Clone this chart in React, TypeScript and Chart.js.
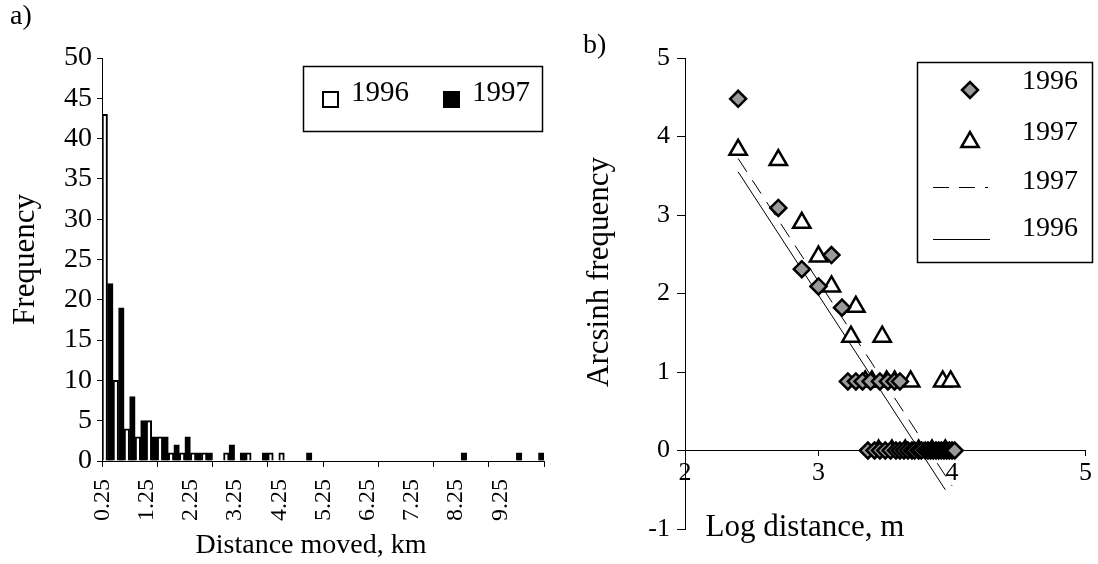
import React, { useEffect, useRef } from "react";
import { Chart, registerables } from "chart.js";

Chart.register(...registerables);

const FONT = "'Liberation Serif', 'Times New Roman', serif";

// ---- Panel a) data ----
const distanceLabels = [
  "0.25", "0.5", "0.75", "1", "1.25", "1.5", "1.75", "2", "2.25", "2.5",
  "2.75", "3", "3.25", "3.5", "3.75", "4", "4.25", "4.5", "4.75", "5",
  "5.25", "5.5", "5.75", "6", "6.25", "6.5", "6.75", "7", "7.25", "7.5",
  "7.75", "8", "8.25", "8.5", "8.75", "9", "9.25", "9.5", "9.75", "10",
];
const freq1996 = [
  43, 10, 4, 3, 5, 3, 1, 1, 1, 1,
  0, 1, 0, 1, 0, 1, 1, 0, 0, 0,
  0, 0, 0, 0, 0, 0, 0, 0, 0, 0,
  0, 0, 0, 0, 0, 0, 0, 0, 0, 0,
];
const freq1997 = [
  22, 19, 8, 5, 3, 3, 2, 3, 1, 1,
  0, 2, 1, 0, 1, 0, 0, 0, 1, 0,
  0, 0, 0, 0, 0, 0, 0, 0, 0, 0,
  0, 0, 1, 0, 0, 0, 0, 1, 0, 1,
];
const seriesNamesA = ["1996", "1997"];

// ---- Panel b) data ----
const logDist1996 = [
  2.398, 2.699, 2.875, 3.0, 3.097, 3.176,
  3.22, 3.28, 3.33, 3.39, 3.46, 3.52, 3.57, 3.61,
  3.37, 3.42, 3.46, 3.5, 3.54, 3.58, 3.61, 3.64, 3.67, 3.7, 3.72, 3.75,
  3.77, 3.8, 3.82, 3.84, 3.86, 3.88, 3.9, 3.92, 3.94, 3.96, 3.98, 4.0, 4.02,
];
const asinh1996 = [
  4.48, 3.09, 2.31, 2.09, 2.49, 1.82,
  0.88, 0.88, 0.88, 0.88, 0.88, 0.88, 0.88, 0.88,
  0, 0, 0, 0, 0, 0, 0, 0, 0, 0, 0, 0,
  0, 0, 0, 0, 0, 0, 0, 0, 0, 0, 0, 0, 0,
];
const logDist1997 = [
  2.398, 2.699, 2.875, 3.0, 3.097, 3.243, 3.28, 3.477,
  3.35, 3.4, 3.51, 3.57, 3.69, 3.93, 3.99,
  3.45, 3.55, 3.65, 3.75, 3.85, 3.95,
];
const asinh1997 = [
  3.83, 3.7, 2.9, 2.47, 2.09, 1.45, 1.83, 1.45,
  0.88, 0.88, 0.88, 0.88, 0.88, 0.88, 0.88,
  0, 0, 0, 0, 0, 0,
];
const fit1997X = [2.398, 4.0];
const fit1997Y = [3.72, -0.45];
const fit1996X = [2.398, 3.95];
const fit1996Y = [3.55, -0.5];
const legendNamesB = ["1996", "1997", "1997", "1996"];
const xTicksB = [2, 3, 4, 5];
const yTicksB = [-1, 0, 1, 2, 3, 4, 5];

const toPoints = (xs: number[], ys: number[]) => xs.map((x, i) => ({ x, y: ys[i] }));

export default function App() {
  const refA = useRef<HTMLCanvasElement>(null);
  const refB = useRef<HTMLCanvasElement>(null);

  useEffect(() => {
    const legendA = {
      id: "legendA",
      afterDraw(chart: any) {
        const ctx = chart.ctx;
        ctx.save();
        ctx.fillStyle = "#fff";
        ctx.fillRect(303, 66, 239, 65);
        ctx.strokeStyle = "#000";
        ctx.lineWidth = 1.5;
        ctx.strokeRect(303.5, 66.5, 239, 65);
        ctx.lineWidth = 2;
        ctx.strokeRect(323, 92, 15, 15);
        ctx.fillStyle = "#000";
        ctx.fillRect(443, 91, 17, 17);
        ctx.font = `29px ${FONT}`;
        ctx.textBaseline = "middle";
        ctx.textAlign = "left";
        ctx.fillText(seriesNamesA[0], 351, 93);
        ctx.fillText(seriesNamesA[1], 472, 93);
        ctx.font = `28px ${FONT}`;
        ctx.fillText("a)", 10, 17);
        ctx.textAlign = "center";
        ctx.fillText("Distance moved, km", 311, 546);
        ctx.restore();
      },
    };

    const chartA = new Chart(refA.current as HTMLCanvasElement, {
      type: "bar",
      data: {
        labels: distanceLabels,
        datasets: [
          {
            label: seriesNamesA[0],
            data: freq1996,
            backgroundColor: "#fff",
            borderColor: "#000",
            borderWidth: 2,
            categoryPercentage: 1,
            barPercentage: 1,
          },
          {
            label: seriesNamesA[1],
            data: freq1997,
            backgroundColor: "#000",
            borderColor: "#000",
            borderWidth: 1,
            categoryPercentage: 1,
            barPercentage: 1,
          },
        ],
      },
      options: {
        animation: false,
        responsive: false,
        maintainAspectRatio: false,
        devicePixelRatio: 1,
        layout: { padding: { left: 0, top: 58, right: 16, bottom: 0 } },
        plugins: { legend: { display: false }, tooltip: { enabled: false } },
        scales: {
          x: {
            type: "category",
            offset: true,
            grid: {
              offset: true,
              drawOnChartArea: false,
              drawTicks: true,
              tickLength: 6,
              lineWidth: 1,
              color: (c: any) =>
                c.index === undefined || c.index % 5 === 0 ? "#000" : "rgba(0,0,0,0)",
            },
            border: { display: true, color: "#000", width: 1 },
            ticks: {
              autoSkip: false,
              maxRotation: 90,
              minRotation: 90,
              padding: 12,
              labelOffset: -5,
              color: "#000",
              font: { family: FONT, size: 24 },
              callback: (_v: any, i: number) => (i % 4 === 0 ? distanceLabels[i] : ""),
            },
            afterFit: (s: any) => {
              s.height = 103;
              s.paddingLeft = 0;
              s.paddingRight = 0;
            },
          },
          y: {
            min: 0,
            max: 50,
            ticks: {
              stepSize: 5,
              color: "#000",
              padding: 5,
              font: { family: FONT, size: 28 },
            },
            grid: { drawOnChartArea: false, tickLength: 5, color: "#000" },
            border: { display: true, color: "#000", width: 1 },
            title: {
              display: true,
              text: "Frequency",
              color: "#000",
              font: { family: FONT, size: 31 },
              padding: { top: 7, bottom: 0 },
            },
            afterFit: (s: any) => {
              s.width = 102;
            },
          },
        },
      },
      plugins: [legendA],
    } as any);

    const drawDiamond = (ctx: any, x: number, y: number, r: number) => {
      ctx.beginPath();
      ctx.moveTo(x - r, y);
      ctx.lineTo(x, y - r);
      ctx.lineTo(x + r, y);
      ctx.lineTo(x, y + r);
      ctx.closePath();
      ctx.fillStyle = "#9a9a9a";
      ctx.fill();
      ctx.lineWidth = 2.5;
      ctx.strokeStyle = "#000";
      ctx.stroke();
    };
    const drawTriangle = (ctx: any, x: number, y: number, r: number) => {
      ctx.beginPath();
      for (let k = 0; k < 3; k++) {
        const a = (k * 2 * Math.PI) / 3;
        const px = x + Math.sin(a) * r;
        const py = y - Math.cos(a) * r;
        if (k === 0) ctx.moveTo(px, py);
        else ctx.lineTo(px, py);
      }
      ctx.closePath();
      ctx.fillStyle = "#fff";
      ctx.fill();
      ctx.lineWidth = 2.5;
      ctx.strokeStyle = "#000";
      ctx.stroke();
    };

    const legendB = {
      id: "legendB",
      afterDraw(chart: any) {
        const ctx = chart.ctx;
        ctx.save();
        ctx.fillStyle = "#fff";
        ctx.fillRect(357, 62, 175, 200);
        ctx.strokeStyle = "#000";
        ctx.lineWidth = 1.5;
        ctx.strokeRect(357.5, 62.5, 175, 200);
        drawDiamond(ctx, 410, 90, 8);
        drawTriangle(ctx, 410, 142, 10);
        ctx.lineWidth = 1;
        ctx.setLineDash([16, 10]);
        ctx.beginPath();
        ctx.moveTo(373, 187.5);
        ctx.lineTo(428, 187.5);
        ctx.stroke();
        ctx.setLineDash([]);
        ctx.beginPath();
        ctx.moveTo(373, 239.5);
        ctx.lineTo(430, 239.5);
        ctx.stroke();
        ctx.fillStyle = "#000";
        ctx.font = `28px ${FONT}`;
        ctx.textBaseline = "middle";
        ctx.textAlign = "left";
        ctx.fillText(legendNamesB[0], 462, 82);
        ctx.fillText(legendNamesB[1], 462, 133);
        ctx.fillText(legendNamesB[2], 462, 182);
        ctx.fillText(legendNamesB[3], 462, 229);
        ctx.fillText("b)", 23, 46);
        // axis titles
        ctx.font = `31px ${FONT}`;
        ctx.textAlign = "center";
        ctx.fillText("Log distance, m", 245, 528);
        ctx.save();
        ctx.translate(40, 272);
        ctx.rotate(-Math.PI / 2);
        ctx.fillText("Arcsinh frequency", 0, 0);
        ctx.restore();
        ctx.restore();
      },
    };

    const chartB = new Chart(refB.current as HTMLCanvasElement, {
      type: "scatter",
      data: {
        datasets: [
          {
            label: "1996",
            data: toPoints(logDist1996, asinh1996),
            pointStyle: "rectRot",
            pointRadius: 8,
            backgroundColor: "#9a9a9a",
            borderColor: "#000",
            borderWidth: 2.5,
            order: 1,
          },
          {
            label: "1997",
            data: toPoints(logDist1997, asinh1997),
            pointStyle: "triangle",
            pointRadius: 10,
            backgroundColor: "#fff",
            borderColor: "#000",
            borderWidth: 2.5,
            order: 2,
          },
          {
            type: "line",
            label: "1997 fit",
            data: toPoints(fit1997X, fit1997Y),
            borderColor: "#000",
            borderWidth: 1,
            borderDash: [16, 10],
            pointRadius: 0,
            fill: false,
            order: 3,
          },
          {
            type: "line",
            label: "1996 fit",
            data: toPoints(fit1996X, fit1996Y),
            borderColor: "#000",
            borderWidth: 1,
            pointRadius: 0,
            fill: false,
            order: 4,
          },
        ],
      },
      options: {
        animation: false,
        responsive: false,
        maintainAspectRatio: false,
        devicePixelRatio: 1,
        layout: { padding: { left: 0, top: 58, right: 8, bottom: 35 } },
        plugins: { legend: { display: false }, tooltip: { enabled: false } },
        scales: {
          x: {
            type: "linear",
            min: 2,
            max: 5,
            position: { y: 0 },
            afterBuildTicks: (s: any) => {
              s.ticks = xTicksB.map((v) => ({ value: v }));
            },
            ticks: {
              color: "#000",
              padding: 2,
              font: { family: FONT, size: 26 },
            },
            grid: { drawOnChartArea: false, tickLength: 5, color: "#000" },
            border: { display: true, color: "#000", width: 1 },
            afterFit: (s: any) => {
              s.paddingLeft = 0;
              s.paddingRight = 0;
            },
          },
          y: {
            type: "linear",
            min: -1,
            max: 5,
            position: "left",
            afterBuildTicks: (s: any) => {
              s.ticks = yTicksB.map((v) => ({ value: v }));
            },
            ticks: {
              color: "#000",
              padding: 7,
              font: { family: FONT, size: 26 },
            },
            grid: { drawOnChartArea: false, tickLength: 8, color: "#000" },
            border: { display: true, color: "#000", width: 1 },
            afterFit: (s: any) => {
              s.width = 125;
            },
          },
        },
      },
      plugins: [legendB],
    } as any);

    return () => {
      chartA.destroy();
      chartB.destroy();
    };
  }, []);

  return (
    <div
      style={{
        position: "absolute",
        left: 0,
        top: 0,
        width: 1098,
        height: 564,
        background: "#fff",
        overflow: "hidden",
      }}
    >
      <canvas
        ref={refA}
        width={560}
        height={564}
        style={{ position: "absolute", left: 0, top: 0, width: 560, height: 564 }}
      />
      <canvas
        ref={refB}
        width={538}
        height={564}
        style={{ position: "absolute", left: 560, top: 0, width: 538, height: 564 }}
      />
    </div>
  );
}
